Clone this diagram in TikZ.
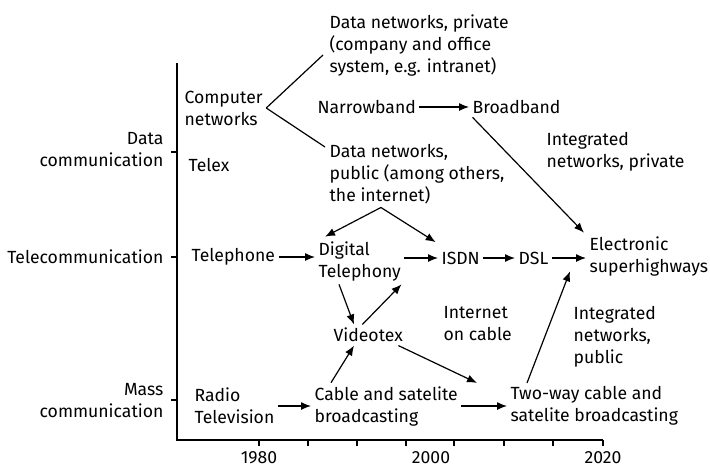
\documentclass[tikz,border=0pt]{standalone}
\usepackage{fontspec}
\setmainfont{Fira Sans}
\usetikzlibrary{arrows.meta}
\begin{document}
\begin{tikzpicture}[x=0.5pt,y=-0.5pt,font=\fontsize{8.8}{11}\selectfont,line width=0.6pt]
      \useasboundingbox (0,0) rectangle (710,468);

      % time axis
      \draw (177,63) -- (177,440) -- (603,440);
      \foreach \x in {259,308,357,406,454,504,553,603}
        \draw (\x,440) -- (\x,446);
      \foreach \y in {152,257,400}
        \draw (171,\y) -- (177,\y);

      \begin{scope}[every node/.style={anchor=east, align=right, inner sep=1.5pt}]
        \node (datacom) at (167,150) {Data\\communication};
        \node (telecom) at (167,257) {Telecommunication};
        \node (masscom) at (167,401) {Mass\\communication};
      \end{scope}

      \begin{scope}[every node/.style={inner sep=1.5pt}]
        \node (y1980) at (259,458) {1980};
        \node (y2000) at (431,458) {2000};
        \node (y2020) at (603,458) {2020};
      \end{scope}

      \begin{scope}[every node/.style={anchor=west, align=left, inner sep=1.5pt}]
        \node (privnet) at (326,46)  {Data networks, private\\(company and office\\system, e.g. intranet)};
        \node (comp)    at (181,108) {Computer\\networks};
        \node (narrow)  at (314,107) {Narrowband};
        \node (broad)   at (469,107) {Broadband};
        \node (telex)   at (185,165) {Telex};
        \node (pubnet)  at (326,174) {Data networks,\\public (among others,\\the internet)};
        \node (intpriv) at (543,152) {Integrated\\networks, private};
        \node (teleph)  at (188,257) {Telephone};
        \node (digi)    at (315,261) {Digital\\Telephony};
        \node (isdn)    at (438,258) {ISDN};
        \node (dsl)     at (515,258) {DSL};
        \node (elec)    at (586,256) {Electronic\\superhighways};
        \node (vtex)    at (330,335) {Videotex};
        \node (inetcab) at (440,324) {Internet\\on cable};
        \node (intpub)  at (570,337) {Integrated\\networks,\\public};
        \node (radio)   at (191,406) {Radio\\Television};
        \node (cable)   at (311,406) {Cable and satelite\\broadcasting};
        \node (twoway)  at (507,406) {Two-way cable and\\satelite broadcasting};
      \end{scope}

      % branches
      \path (comp.east) edge ([shift={(-3,9)}]privnet.west);
      \path (comp.east) edge ([shift={(-1,-27)}]pubnet.west);

      \begin{scope}[every edge/.style={draw, -{Latex[length=5pt,width=4pt]}}]
        \path (narrow.east) edge (broad.west);
        \path ([shift={(-44,0)}]broad.south) edge ([shift={(-2,0)}]elec.north west);
        \path ([shift={(-36,0)}]pubnet.south) edge ([shift={(10,-1)}]digi.north west);
        \path ([shift={(-36,0)}]pubnet.south) edge ([shift={(-25,-6)}]isdn.north);
        \path (teleph.east) edge (teleph.east -| digi.west);
        \path (digi.east |- isdn.west) edge (isdn.west);
        \path (isdn.east) edge (dsl.west);
        \path (dsl.east) edge (dsl.east -| elec.west);
        \path ([shift={(24,0)}]digi.south west) edge ([shift={(24,0)}]vtex.north west);
        \path ([shift={(-44,0)}]vtex.north east) edge ([shift={(-3,0)}]digi.south east);
        \path ([shift={(20,0)}]cable.north west) edge ([shift={(24,0)}]vtex.south west);
        \path ([shift={(-8,0)}]vtex.south east) edge ([shift={(-30,0)}]twoway.north west);
        \path ([shift={(20,0)}]twoway.north west) edge ([shift={(-16,-8)}]elec.south west);
        \path (radio.east) edge (cable.west);
        \path (cable.east) edge (twoway.west);
      \end{scope}

    \end{tikzpicture}
\end{document}
